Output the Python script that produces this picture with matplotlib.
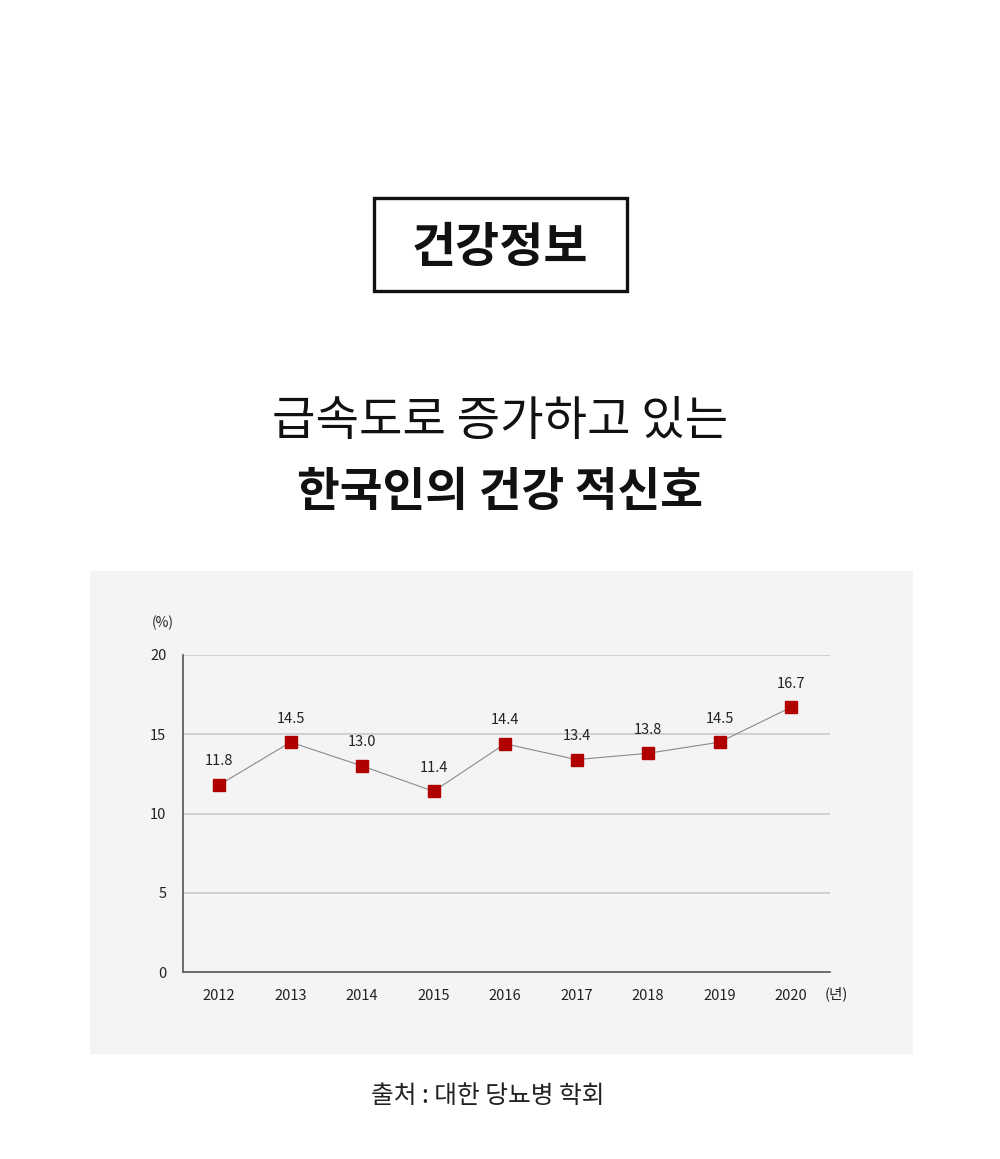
import matplotlib
matplotlib.use('Agg')
import matplotlib.pyplot as plt
from matplotlib.patches import Rectangle

plt.rcParams['font.family'] = ['Noto Sans CJK KR', 'DejaVu Sans']

years = ['2012', '2013', '2014', '2015', '2016', '2017', '2018', '2019', '2020']
rates = [11.8, 14.5, 13.0, 11.4, 14.4, 13.4, 13.8, 14.5, 16.7]
y_ticks = [0, 5, 10, 15, 20]

W, H = 1000, 1159
fig = plt.figure(figsize=(W / 100, H / 100), dpi=100)
fig.patch.set_facecolor('white')

def fx(px):
    return px / W

def fy(py):
    return 1 - py / H

# grey panel
fig.patches.append(Rectangle((fx(90), fy(1054)), fx(913) - fx(90), fy(571) - fy(1054),
                             transform=fig.transFigure, facecolor='#f4f4f4',
                             edgecolor='none', zorder=-2))

# title box
fig.patches.append(Rectangle((fx(374), fy(291)), fx(627) - fx(374), fy(198) - fy(291),
                             transform=fig.transFigure, facecolor='white',
                             edgecolor='#111111', linewidth=2.4, zorder=-1))
fig.text(0.5, fy(247), '건강정보', ha='center', va='center', fontsize=34.5,
         fontweight='bold', color='#111111')

fig.text(0.5, fy(422), '급속도로 증가하고 있는', ha='center', va='center',
         fontsize=34, color='#111111')
fig.text(0.5, fy(492), '한국인의 건강 적신호', ha='center', va='center',
         fontsize=33.5, fontweight='bold', color='#111111')

fig.text(fx(488), fy(1096), '출처 : 대한 당뇨병 학회', ha='center', va='center',
         fontsize=17.8, color='#222222')

# chart
ax = fig.add_axes([fx(183), fy(972), fx(830) - fx(183), fy(655) - fy(972)], zorder=2)
ax.set_facecolor('none')
x = list(range(len(years)))
ax.set_xlim(-0.505, 8.545)
ax.set_ylim(0, 20)

for t in y_ticks[1:]:
    ax.axhline(t, color='#c6c6c6', linewidth=1.1, zorder=1)

ax.plot(x, rates, color='#8a8a8a', linewidth=0.8, zorder=2)
ax.plot(x, rates, linestyle='none', marker='s', markersize=8.5,
        color='#b00000', zorder=3)
for xi, v in zip(x, rates):
    ax.annotate(f'{v:.1f}', (xi, v), xytext=(0, 12), textcoords='offset points',
                ha='center', va='bottom', fontsize=10.5, color='#222222')

for s in ['top', 'right']:
    ax.spines[s].set_visible(False)
ax.spines['left'].set_color('#555555')
ax.spines['bottom'].set_color('#555555')
ax.spines['left'].set_linewidth(1.2)
ax.spines['bottom'].set_linewidth(1.2)

ax.set_xticks(x)
ax.set_xticklabels(years)
ax.set_yticks(y_ticks)
ax.tick_params(axis='both', length=0, labelsize=10.5, colors='#222222')
ax.tick_params(axis='x', pad=12)
ax.tick_params(axis='y', pad=12)

fig.text(fx(163), fy(623), '(%)', ha='center', va='center', fontsize=10, color='#222222')
fig.text(fx(836), fy(994), '(년)', ha='center', va='center', fontsize=10.5, color='#222222')

fig.savefig('out.png', dpi=100, facecolor='white')
